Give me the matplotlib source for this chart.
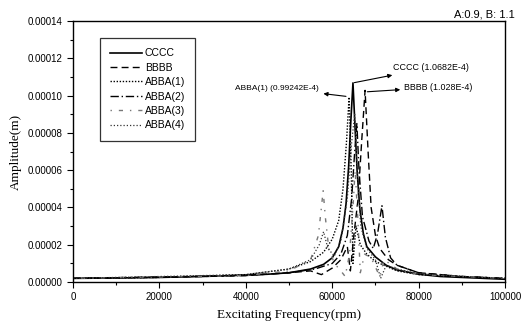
import matplotlib
matplotlib.use("Agg")
import matplotlib.pyplot as plt
from matplotlib.ticker import MultipleLocator, FuncFormatter

# amplitudes in units of 1e-5 m, frequencies in rpm
cccc_f = [0, 10000, 20000, 30000, 40000, 45000, 50000, 55000, 58000, 60000, 61500, 62500, 63200,
          63800, 64300, 64800, 65300, 65800, 66400, 67200, 68000, 70000, 72500, 75000, 80000,
          85000, 90000, 100000]
cccc_a = [0.20, 0.22, 0.25, 0.30, 0.38, 0.42, 0.50, 0.70, 0.95, 1.30, 1.90, 2.90, 4.20,
          6.20, 8.60, 10.68, 8.20, 5.80, 3.90, 2.60, 1.90, 1.35, 0.90, 0.65, 0.42,
          0.30, 0.25, 0.15]

bbbb_f = [0, 20000, 40000, 50000, 55000, 57500, 60000, 62000, 63500, 64200, 65000, 66000, 66800,
          67600, 68300, 69000, 70000, 71000, 73000, 75000, 80000, 90000, 100000]
bbbb_a = [0.20, 0.25, 0.35, 0.50, 0.60, 0.40, 0.75, 1.20, 1.90, 0.60, 2.50, 4.50, 7.50,
          10.28, 7.00, 4.00, 2.50, 1.80, 1.20, 0.90, 0.50, 0.30, 0.20]

abba1_f = [0, 20000, 40000, 50000, 55000, 58000, 60000, 61500, 62500, 63300, 63900, 64400, 64800,
           65500, 66500, 68000, 70000, 75000, 80000, 90000, 100000]
abba1_a = [0.20, 0.25, 0.40, 0.70, 1.10, 1.60, 2.30, 3.30, 5.00, 7.50, 9.92, 6.00, 1.00,
           3.00, 2.00, 1.50, 1.10, 0.60, 0.40, 0.30, 0.20]

abba2_f = [0, 40000, 50000, 56000, 60000, 62000, 63500, 64500, 65200, 65700, 66200, 67000, 68500,
           69500, 70500, 71500, 72300, 73500, 75000, 80000, 90000, 100000]
abba2_a = [0.20, 0.35, 0.50, 0.70, 1.00, 1.50, 2.50, 4.50, 7.00, 8.50, 6.00, 3.50, 2.20,
           1.80, 2.60, 4.10, 2.40, 1.30, 0.90, 0.50, 0.30, 0.20]

abba3_f = [0, 40000, 50000, 55000, 56800, 57500, 57900, 58400, 59200, 60500, 62000, 63000, 64000,
           64800, 65300, 65900, 66500, 67500, 69000, 71000, 72000, 75000, 80000, 90000, 100000]
abba3_a = [0.20, 0.35, 0.60, 1.20, 2.50, 4.00, 4.90, 3.50, 1.80, 1.00, 0.60, 0.30, 1.50,
           4.00, 6.00, 3.50, 0.50, 1.50, 1.30, 0.30, 1.20, 0.70, 0.40, 0.30, 0.20]

abba4_f = [0, 40000, 50000, 55000, 57000, 58000, 59000, 60500, 62000, 63500, 64500, 65200, 65800,
           66600, 68000, 70000, 71200, 72500, 75000, 80000, 90000, 100000]
abba4_a = [0.20, 0.40, 0.70, 1.20, 2.00, 2.70, 1.80, 1.40, 2.20, 4.50, 7.50, 9.00, 6.00,
           3.00, 1.80, 1.20, 0.20, 0.90, 0.70, 0.45, 0.30, 0.20]

scale = 1e-5

fig = plt.figure(figsize=(5.24, 3.28), dpi=100)
ax = fig.add_axes([0.139, 0.140, 0.825, 0.796])

sans = ["Liberation Sans", "DejaVu Sans"]
serif = ["Liberation Serif", "DejaVu Serif"]

ax.plot(cccc_f, [v * scale for v in cccc_a], color="black", lw=1.2, ls="-", label="CCCC")
ax.plot(bbbb_f, [v * scale for v in bbbb_a], color="black", lw=1.0, ls=(0, (5, 3)), label="BBBB")
ax.plot(abba1_f, [v * scale for v in abba1_a], color="black", lw=1.0, ls=(0, (1, 1.2)), label="ABBA(1)")
ax.plot(abba2_f, [v * scale for v in abba2_a], color="black", lw=1.0, ls=(0, (6, 2, 1, 2)), label="ABBA(2)")
ax.plot(abba3_f, [v * scale for v in abba3_a], color="#777777", lw=1.0, ls=(0, (1, 5, 3, 5)), label="ABBA(3)")
ax.plot(abba4_f, [v * scale for v in abba4_a], color="#333333", lw=0.9, ls=(0, (1, 1.6)), label="ABBA(4)")

ax.set_xlim(0, 100000)
ax.set_ylim(0, 0.00014)
ax.xaxis.set_major_locator(MultipleLocator(20000))
ax.xaxis.set_minor_locator(MultipleLocator(10000))
ax.yaxis.set_major_locator(MultipleLocator(0.00002))
ax.yaxis.set_minor_locator(MultipleLocator(0.00001))
ax.yaxis.set_major_formatter(FuncFormatter(lambda v, p: f"{v:.5f}"))
ax.xaxis.set_major_formatter(FuncFormatter(lambda v, p: f"{int(round(v))}"))
ax.tick_params(which="major", direction="out", length=4, width=0.8, labelsize=7)
ax.tick_params(which="minor", direction="out", length=2, width=0.8)
for lab in ax.get_xticklabels() + ax.get_yticklabels():
    lab.set_family(sans)
for s in ax.spines.values():
    s.set_linewidth(1.0)

ax.set_xlabel("Excitating Frequency(rpm)", family=serif, fontsize=9.5, labelpad=5)
ax.set_ylabel("Amplitude(m)", family=serif, fontsize=9.5, labelpad=4)

fig.text(0.983, 0.942, "A:0.9, B: 1.1", ha="right", va="bottom", family=sans, fontsize=8)

leg = ax.legend(loc="upper left", bbox_to_anchor=(0.0625, 0.935),
                prop={"family": sans, "size": 7.5}, frameon=True, fancybox=False,
                edgecolor="black", handlelength=3.0, labelspacing=0.42,
                borderpad=1.0, handletextpad=0.3, borderaxespad=0)
leg.get_frame().set_linewidth(0.9)

ap = dict(arrowstyle="<|-", color="black", lw=0.8, mutation_scale=6, shrinkA=1, shrinkB=1)
ax.annotate("CCCC (1.0682E-4)", xy=(64800, 10.68 * scale), xytext=(74000, 11.5 * scale),
            arrowprops=ap, fontsize=6.4, family=sans, va="center", ha="left")
ax.annotate("BBBB (1.028E-4)", xy=(67800, 10.2 * scale), xytext=(76700, 10.45 * scale),
            arrowprops=ap, fontsize=6.4, family=sans, va="center", ha="left")
ax.annotate("ABBA(1) (0.99242E-4)", xy=(63500, 9.95 * scale), xytext=(57000, 10.4 * scale),
            arrowprops=ap, fontsize=6.0, family=sans, va="center", ha="right")

fig.savefig("out.png", dpi=100)
